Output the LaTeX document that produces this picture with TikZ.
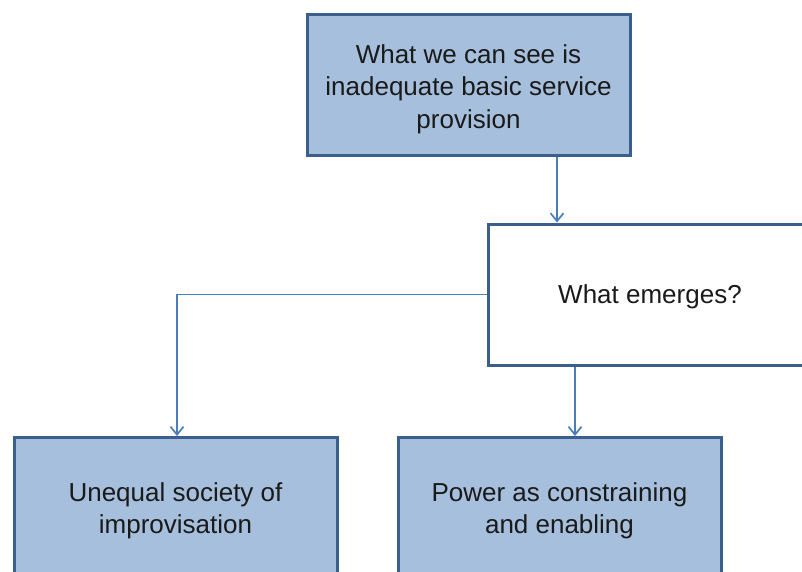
\documentclass[tikz,border=0pt]{standalone}
\usepackage{fontspec}
\setmainfont{Liberation Sans}
\usetikzlibrary{arrows.meta}
\definecolor{boxfill}{HTML}{A6BFDC}
\definecolor{boxline}{HTML}{3B5F8D}
\definecolor{linkblue}{HTML}{4A7EBB}
\definecolor{ink}{HTML}{1A1A1A}
\tikzset{
  box/.style={draw=boxline, line width=3pt, minimum width=323pt, minimum height=141pt,
    inner sep=0pt},
  shaded/.style={box, fill=boxfill},
  plain/.style={box, fill=white},
  caption/.style={align=center, text=ink, font=\fontsize{26}{32.5}\selectfont, inner sep=0pt},
  conn/.style={draw=linkblue, line width=1.7pt,
    -{Straight Barb[length=8pt,width=13pt,line width=1.7pt]}}
}
\begin{document}
\begin{tikzpicture}[x=1pt,y=-1pt]
  \useasboundingbox (0,0) rectangle (802,571);
  \clip (0,0) rectangle (802,571);
  \fill[white] (0,0) rectangle (802,571);

  % boxes
  \node[shaded] (see) at (468.5,85) {};
  \node[plain] (emerge) at (650,294.5) {};
  \node[shaded] (unequal) at (175.5,508) {};
  \node[shaded] (power) at (559.5,508) {};

  % box captions, set a little below the box centres
  \node[caption] (seetext) at ([yshift=-4pt]see.center) {What we can see is\\inadequate basic service\\provision};
  \node[caption] (emergetext) at ([yshift=-2pt]emerge.center) {What emerges?};
  \node[caption] (unequaltext) at ([yshift=-3pt]unequal.center) {Unequal society of\\improvisation};
  \node[caption] (powertext) at ([yshift=-3pt]power.center) {Power as constraining\\and enabling};

  % connector columns
  \coordinate (xa) at (557,0);
  \coordinate (xb) at (575,0);
  \coordinate (xc) at (177,0);

  \draw[conn] (see.south -| xa) -- (emerge.north -| xa);
  \draw[conn] (emerge.west) -| (unequal.north -| xc);
  \draw[conn] (emerge.south -| xb) -- (power.north -| xb);
\end{tikzpicture}
\end{document}
